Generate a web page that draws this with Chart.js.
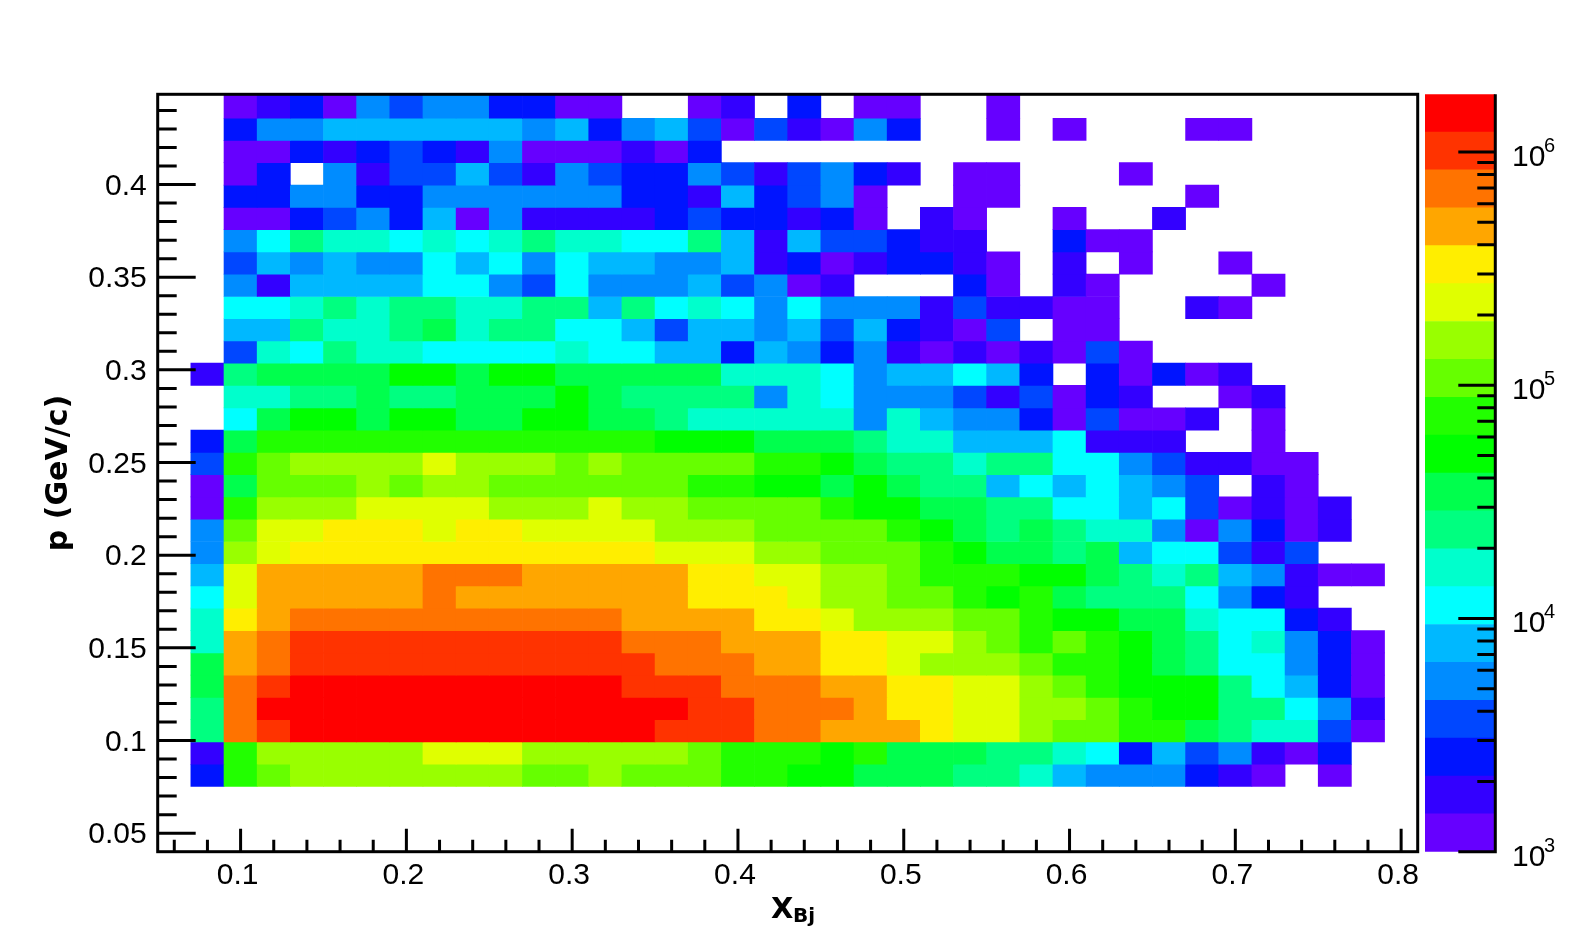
<!DOCTYPE html>
<html><head><meta charset="utf-8">
<style>html,body{margin:0;padding:0;background:#fff;overflow:hidden}
canvas{position:absolute;top:0;left:0}</style>
<script src="https://cdn.jsdelivr.net/npm/chart.js@4"></script>
</head><body>
<canvas id="c1" width="1575" height="947"></canvas>
<canvas id="c2" width="1575" height="947"></canvas>
<script>
const _ = null;
// x bins (Bjorken x, bin low edges)
const xBins = ['0.05','0.07','0.09','0.11','0.13','0.15','0.17','0.19','0.21','0.23','0.25','0.27','0.29','0.31','0.33','0.35','0.37','0.39','0.41','0.43','0.45','0.47','0.49','0.51','0.53','0.55','0.57','0.59','0.61','0.63','0.65','0.67','0.69','0.71','0.73','0.75','0.77','0.79'];
// p bin edges, bottom to top
const pEdges = [0.0752,0.0872,0.0992,0.1113,0.1233,0.1353,0.1473,0.1593,0.1714,0.1834,0.1954,0.2074,0.2194,0.2315,0.2435,0.2555,0.2675,0.2795,0.2916,0.3036,0.3156,0.3276,0.3396,0.3517,0.3637,0.3757,0.3877,0.3997,0.4118,0.4238,0.4358,0.4487];
// colour-scale bin edges (counts) and colours
const zEdges = [1000,1453,2112,3070,4461,6483,9423,13694,19902,28925,42037,61096,88792,129000,187500,272600,396200,575900,836900,1216000,1766000];
const palette = ['#6600ff','#3300ff','#0014ff','#0047ff','#008cff','#00b8ff','#00ffff','#00ffcc','#00ff80','#00ff4d','#00ff00','#22ff00','#66ff00','#99ff00','#e0ff00','#ffee00','#ffa600','#ff7300','#ff3300','#ff0000'];
// contents: colour-scale bin of each cell, top row first, columns from x=0.07
const cellsByRow = [
[_,0,1,2,0,4,3,4,4,2,2,0,0,_,_,0,1,_,2,_,0,0,_,_,0,_,_,_,_,_,_,_,_,_,_,_],
[_,2,4,4,5,5,5,5,5,5,4,5,2,4,5,3,0,3,1,0,4,2,_,_,0,_,0,_,_,_,0,0,_,_,_,_],
[_,0,0,2,1,2,3,2,1,4,0,0,0,1,0,2,_,_,_,_,_,_,_,_,_,_,_,_,_,_,_,_,_,_,_,_],
[_,0,2,_,4,1,3,3,5,3,1,4,3,2,2,4,3,1,3,4,2,1,_,0,0,_,_,_,0,_,_,_,_,_,_,_],
[_,2,2,4,4,2,2,4,4,4,4,4,4,2,2,1,5,2,3,4,0,_,_,0,0,_,_,_,_,_,0,_,_,_,_,_],
[_,0,0,2,3,4,2,5,0,4,1,1,1,1,2,3,2,2,1,2,0,_,1,0,_,_,0,_,_,1,_,_,_,_,_,_],
[_,4,6,8,7,7,6,7,6,7,8,7,7,6,6,8,5,1,5,3,3,2,1,1,_,_,2,0,0,_,_,_,_,_,_,_],
[_,3,5,4,5,4,4,6,5,6,4,6,5,5,4,4,5,1,2,0,1,2,2,1,0,_,1,_,0,_,_,0,_,_,_,_],
[_,4,1,5,5,5,5,6,6,4,3,6,4,4,4,5,3,4,0,1,_,_,_,2,0,_,1,0,_,_,_,_,0,_,_,_],
[_,6,6,7,8,7,8,8,7,7,8,8,5,8,6,7,6,4,6,4,4,4,1,3,1,1,0,0,_,_,1,0,_,_,_,_],
[_,5,5,8,7,7,8,9,7,8,8,6,6,5,3,5,5,4,5,3,5,2,1,0,3,_,0,0,_,_,_,_,_,_,_,_],
[_,3,7,6,8,7,7,6,6,6,6,7,6,6,5,5,2,5,4,2,4,1,0,1,0,1,0,3,0,_,_,_,_,_,_,_],
[1,8,9,9,9,9,10,10,9,10,10,9,9,9,9,9,7,7,7,6,4,5,5,6,5,2,_,2,0,2,0,1,_,_,_,_],
[_,7,7,8,8,9,8,8,9,9,9,10,9,8,8,8,8,4,7,6,4,4,4,3,1,3,0,2,1,_,_,0,1,_,_,_],
[_,6,9,10,10,9,10,10,9,9,10,10,9,9,8,7,7,7,7,7,4,7,5,4,4,2,0,3,0,0,1,_,0,_,_,_],
[2,9,11,11,11,11,11,11,11,11,11,11,11,11,10,10,10,9,9,9,8,7,7,5,5,5,6,1,1,1,_,_,0,_,_,_],
[3,11,12,13,13,13,13,14,13,13,13,12,13,12,12,12,12,11,11,10,9,8,8,7,8,8,6,6,4,3,1,1,0,0,_,_],
[0,9,12,12,12,13,12,13,13,12,12,12,12,12,12,11,11,10,10,9,10,9,8,8,5,6,5,6,5,4,3,_,1,0,_,_],
[0,11,13,13,13,14,14,14,14,13,13,13,14,13,13,12,12,12,12,11,10,10,9,9,8,8,6,6,5,6,3,0,1,0,1,_],
[4,12,14,14,15,15,15,14,15,15,14,14,14,14,13,13,13,12,12,12,12,11,10,9,8,9,8,7,7,4,0,4,2,0,1,_],
[4,13,14,15,15,15,15,15,15,15,15,15,15,15,14,14,14,13,13,12,12,12,11,10,9,9,8,9,5,6,6,3,1,3,_,_],
[5,14,16,16,16,16,16,17,17,17,16,16,16,16,16,15,15,14,14,13,13,12,11,11,11,10,10,9,8,7,8,5,4,1,0,0],
[6,14,16,16,16,16,16,17,16,16,16,16,16,16,16,15,15,15,14,13,13,12,12,11,10,11,9,8,8,8,6,4,2,1,_,_],
[7,15,16,17,17,17,17,17,17,17,17,17,17,16,16,16,16,15,15,14,13,13,13,12,12,11,10,10,9,9,7,6,6,2,1,_],
[7,16,17,18,18,18,18,18,18,18,18,18,18,17,17,17,16,16,16,15,15,14,14,13,12,11,12,11,10,9,8,6,7,4,2,0],
[9,16,17,18,18,18,18,18,18,18,18,18,18,18,17,17,17,16,16,15,15,14,13,13,13,12,11,11,10,9,8,6,6,4,2,0],
[9,17,18,19,19,19,19,19,19,19,19,19,19,18,18,18,17,17,17,16,16,15,15,14,14,13,12,11,10,10,10,8,6,5,2,0],
[8,17,19,19,19,19,19,19,19,19,19,19,19,19,19,18,18,17,17,17,16,15,15,14,14,13,13,12,11,10,10,8,8,6,4,1],
[8,17,18,19,19,19,19,19,19,19,19,19,19,19,18,18,18,17,17,16,16,16,15,14,14,13,12,12,11,11,9,8,7,7,3,0],
[1,11,13,13,13,13,13,14,14,14,13,13,13,13,13,12,11,11,11,10,11,9,9,9,8,8,7,6,2,5,3,4,1,0,2,_],
[2,11,12,13,13,13,13,13,13,13,12,12,13,12,12,12,11,11,10,10,9,9,9,8,8,7,5,4,4,4,2,1,0,_,0,_]
];
const xMajor = [0.1,0.2,0.3,0.4,0.5,0.6,0.7,0.8];
const yDecades = [1000,10000,100000,1000000];
const zExponents = ['3','4','5','6'];
const zMinor = [2e3,3e3,4e3,5e3,6e3,7e3,8e3,9e3,2e4,3e4,4e4,5e4,6e4,7e4,8e4,9e4,2e5,3e5,4e5,5e5,6e5,7e5,8e5,9e5];

const nRows = cellsByRow.length;
const heatSets = cellsByRow.map((row, r) => {
  const lo = pEdges[nRows-1-r], hi = pEdges[nRows-r];
  const cols = [null].concat(row);
  return {
    data: cols.map(v => v === null ? null : [lo, hi]),
    backgroundColor: cols.map(v => v === null ? 'rgba(0,0,0,0)' : palette[v]),
    borderWidth: 0, barPercentage: 1, categoryPercentage: 1, grouped: false,
    xAxisID: 'x', yAxisID: 'y'
  };
});

const plotDeco = {
  id: 'plotDeco',
  afterDatasetsDraw(ch) {
    const {ctx, chartArea: a, scales} = ch, sx = scales.xv, sy = scales.y;
    ctx.save();
    ctx.strokeStyle = '#000'; ctx.lineWidth = 3; ctx.lineCap = 'butt';
    ctx.beginPath();
    for (let k = 3; k <= 40; k++) {           // x ticks every 0.02
      const v = k * 0.02, px = sx.getPixelForValue(v);
      const major = k % 5 === 0;
      ctx.moveTo(px, a.bottom); ctx.lineTo(px, a.bottom - (major ? 23 : 12));
    }
    for (let k = 5; k <= 44; k++) {           // y ticks every 0.01
      const py = sy.getPixelForValue(k * 0.01);
      const major = k % 5 === 0;
      ctx.moveTo(a.left, py); ctx.lineTo(a.left + (major ? 38 : 19), py);
    }
    ctx.stroke();
    ctx.strokeRect(a.left, a.top, a.right - a.left, a.bottom - a.top);
    ctx.fillStyle = '#000';
    ctx.textAlign = 'left'; ctx.textBaseline = 'alphabetic';
    ctx.font = 'bold 29px "DejaVu Sans"';
    ctx.fillText('X', 771, 918);
    ctx.font = 'bold 20px "DejaVu Sans"';
    ctx.fillText('Bj', 793, 922);
    ctx.restore();
  }
};

new Chart(document.getElementById('c1'), {
  type: 'bar',
  data: {labels: xBins, datasets: heatSets},
  plugins: [plotDeco],
  options: {
    responsive: false, animation: false, devicePixelRatio: 1,
    layout: {padding: {top: 94.3, right: 157.3, left: 0, bottom: 0}},
    plugins: {legend: {display: false}, tooltip: {enabled: false}},
    scales: {
      x: {type: 'category', display: false, offset: true},
      xv: {type: 'linear', position: 'bottom', min: 0.05, max: 0.81, offset: false,
        afterFit(s) { s.height = 95.3; },
        grid: {display: false, offset: false}, border: {display: false},
        ticks: {stepSize: 0.1, includeBounds: false, maxRotation: 0, padding: -2, labelOffset: -3, color: '#000', font: {family: 'Liberation Sans', size: 30},
          callback: v => String(+v.toFixed(2))},
        afterBuildTicks(s) { s.ticks = xMajor.map(v => ({value: v})); }
      },
      y: {type: 'linear', position: 'left', min: 0.04, max: 0.4487,
        afterFit(s) { s.width = 157.7; },
        grid: {display: false}, border: {display: false},
        title: {display: true, text: 'p (GeV/c)', color: '#000', font: {family: 'DejaVu Sans', weight: 'bold', size: 30}, padding: {top: 41, bottom: 0}},
        ticks: {stepSize: 0.05, includeBounds: false, padding: 3, labelOffset: 2, color: '#000', font: {family: 'Liberation Sans', size: 30},
          callback: v => String(+v.toFixed(2))}
      }
    }
  }
});

// colour bar
const barDeco = {
  id: 'barDeco',
  afterDatasetsDraw(ch) {
    const {ctx, chartArea: a, scales} = ch, sy = scales.y;
    ctx.save();
    ctx.strokeStyle = '#000'; ctx.lineWidth = 3;
    ctx.beginPath();
    ctx.moveTo(a.right, a.top); ctx.lineTo(a.right, a.bottom + 1.5);
    zMinor.forEach(v => { const p = sy.getPixelForValue(v); ctx.moveTo(a.right, p); ctx.lineTo(a.right - 18, p); });
    yDecades.forEach(v => { const p = sy.getPixelForValue(v); ctx.moveTo(a.right, p); ctx.lineTo(a.right - 37, p); });
    ctx.stroke();
    ctx.fillStyle = '#000'; ctx.textBaseline = 'alphabetic'; ctx.textAlign = 'left';
    yDecades.forEach((v, i) => {
      const p = sy.getPixelForValue(v);
      ctx.font = '30px "Liberation Sans"';
      ctx.fillText('10', 1512, p + 14);
      ctx.font = '20px "Liberation Sans"';
      ctx.fillText(zExponents[i], 1544, p);
    });
    ctx.restore();
  }
};
new Chart(document.getElementById('c2'), {
  type: 'bar',
  data: {labels: ['z'], datasets: palette.map((c, i) => ({
    data: [[zEdges[i], zEdges[i+1]]], backgroundColor: c, borderWidth: 0,
    barPercentage: 1, categoryPercentage: 1, grouped: false
  }))},
  plugins: [barDeco],
  options: {
    responsive: false, animation: false, devicePixelRatio: 1,
    layout: {padding: {top: 94.3, right: 79.7, left: 1425, bottom: 95.3}},
    plugins: {legend: {display: false}, tooltip: {enabled: false}},
    scales: {
      x: {type: 'category', display: false, offset: true},
      y: {type: 'logarithmic', display: false, min: 1000, max: 1766000}
    }
  }
});
</script>
</body></html>
